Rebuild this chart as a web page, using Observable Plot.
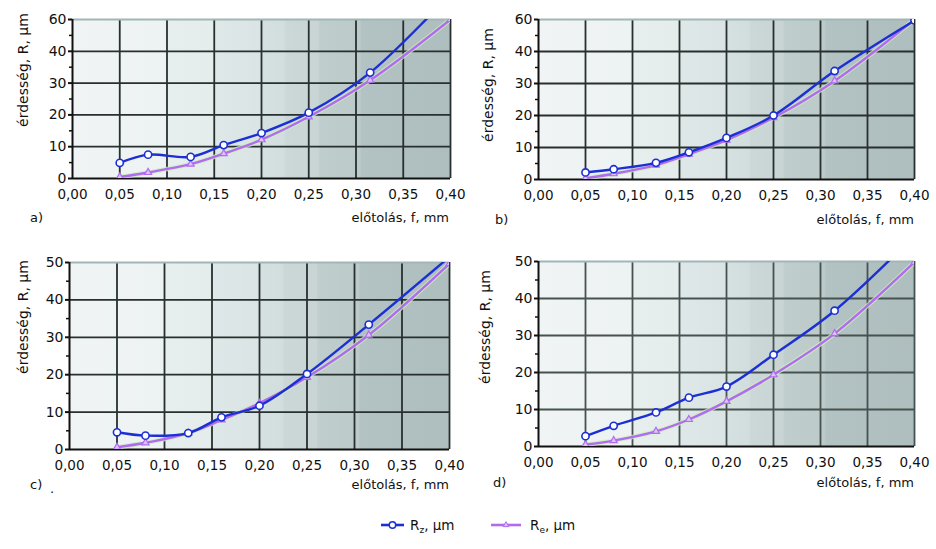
<!DOCTYPE html>
<html>
<head>
<meta charset="utf-8">
<script src="https://cdn.jsdelivr.net/npm/d3@7"></script>
<script src="https://cdn.jsdelivr.net/npm/@observablehq/plot@0.6"></script>
<style>
  html, body { margin: 0; padding: 0; background: #fff; }
  body { width: 936px; height: 549px; position: relative; overflow: hidden; font-family: "DejaVu Sans", sans-serif; color: #111; }
  .panel { position: absolute; }
  .lbl { position: absolute; font-size: 13px; white-space: nowrap; line-height: 1; }
  .ytitle { position: absolute; font-size: 14px; white-space: nowrap; line-height: 1; transform: translate(-50%, -50%) rotate(-90deg); }
  .legend { position: absolute; left: 0; top: 512px; width: 936px; height: 30px; }
</style>
</head>
<body>
<script>
// ---- data ----
const feed = [0.05, 0.08, 0.125, 0.16, 0.2, 0.25, 0.315, 0.4];

const rzA = [4.9, 7.5, 6.8, 10.5, 14.3, 20.7, 33.3, 58];
const reA = [0.5, 1.9, 4.5, 7.8, 12.2, 19.4, 30.9, 50];

const rzB = [2.2, 3.2, 5.2, 8.5, 13.0, 20.0, 33.9, 49.7];
const reB = [0.4, 1.8, 4.5, 7.9, 12.3, 19.3, 30.8, 50];

const rzC = [4.6, 3.7, 4.4, 8.6, 11.7, 20.2, 33.4, 51.5];
const reC = [0.6, 1.8, 4.4, 7.9, 12.4, 19.3, 30.6, 49.7];

const rzD = [2.8, 5.6, 9.2, 13.2, 16.2, 24.8, 36.7, 57];
const reD = [0.5, 1.6, 4.1, 7.3, 12.2, 19.4, 30.5, 49.8];

const xTicks = [0, 0.05, 0.1, 0.15, 0.2, 0.25, 0.3, 0.35, 0.4];
const xTickLabels = ["0,00", "0,05", "0,10", "0,15", "0,20", "0,25", "0,30", "0,35", "0,40"];
const yTicks = [0, 10, 20, 30, 40, 50];
const yMinorTicks = [5, 15, 25, 35, 45];
const yTickLabelsAB = ["0", "10", "20", "30", "40", "60"];
const yTickLabelsCD = ["0", "10", "20", "30", "40", "50"];

const xTitle = "előtolás, f, mm";
const yTitle = "érdesség, R, µm";
const seriesNames = ["R", "R"];
const seriesSubs = ["z", "e"];
const seriesUnit = ", µm";

// ---- styles ----
const rzColor = "#1c2fd4";
const reColor = "#b06cee";
const bgStops = [
  [0, "#f0f4f4"], [0.245, "#edf2f2"], [0.25, "#e7eeee"], [0.37, "#e5ecec"],
  [0.375, "#dfe8e8"], [0.5, "#dbe4e4"], [0.505, "#d5e0e0"], [0.56, "#d2dddd"],
  [0.565, "#ccd8d8"], [0.65, "#c9d5d5"], [0.655, "#bfcdcd"], [0.76, "#bccaca"],
  [0.765, "#b3c2c2"], [1, "#aebdbd"]
];

function panel(cfg) {
  const rows = feed.map((f, i) => ({f, rz: cfg.rz[i], re: cfg.re[i]}));
  const curve = "catmull-rom";
  const svg = Plot.plot({
    width: cfg.width, height: cfg.height,
    marginTop: cfg.mt, marginBottom: cfg.mb, marginLeft: cfg.ml, marginRight: cfg.mr,
    style: {fontFamily: "DejaVu Sans, sans-serif", fontSize: "14px", color: "#111", background: "transparent", overflow: "visible"},
    x: {domain: [0, 0.4]},
    y: {domain: [0, 50]},
    marks: [
      Plot.frame({fill: `url(#bg-${cfg.id})`, stroke: null}),
      Plot.ruleX(xTicks.slice(1), {stroke: cfg.grid, strokeWidth: 1.8}),
      Plot.ruleY(yTicks.slice(1, -1), {stroke: cfg.grid, strokeWidth: 1.8}),
      Plot.ruleY([50], {stroke: "#a2b6b6", strokeWidth: 2}),
      Plot.ruleX([0], {stroke: "#111", strokeWidth: 2}),
      Plot.ruleY([0], {stroke: "#111", strokeWidth: 2}),
      Plot.axisX({ticks: xTicks, tickFormat: d => xTickLabels[xTicks.indexOf(d)], tickSize: 0, tickPadding: 11, fontSize: 13.5, label: null}),
      Plot.axisY({ticks: yTicks, tickFormat: d => cfg.yLabels[yTicks.indexOf(d)], tickSize: 4, tickPadding: 2, strokeWidth: 2, fontSize: 14, label: null}),
      Plot.axisY({ticks: yMinorTicks, tickFormat: () => "", tickSize: 3, strokeWidth: 1.5, label: null}),
      Plot.line(rows, {x: "f", y: "re", stroke: "#cdeebd", strokeWidth: 4.5, strokeOpacity: 0.8, curve, clip: true}),
      Plot.line(rows, {x: "f", y: "re", stroke: reColor, strokeWidth: 2.4, curve, clip: true}),
      Plot.line(rows, {x: "f", y: "rz", stroke: rzColor, strokeWidth: 2.4, curve, clip: true}),
      Plot.dot(rows, {x: "f", y: "re", symbol: "triangle", r: 2.6, stroke: reColor, fill: "#dcc2f8", strokeWidth: 1.2, clip: true}),
      Plot.dot(rows, {x: "f", y: "rz", r: 3.6, fill: "white", stroke: rzColor, strokeWidth: 1.6, clip: true})
    ]
  });
  const defs = d3.select(svg).insert("defs", ":first-child");
  const g = defs.append("linearGradient").attr("id", `bg-${cfg.id}`)
    .attr("x1", 0).attr("x2", 1).attr("y1", 0).attr("y2", 0);
  bgStops.forEach(([o, c]) => g.append("stop").attr("offset", o).attr("stop-color", c));
  svg.classList.add("panel");
  svg.style.left = cfg.left + "px";
  svg.style.top = cfg.top + "px";
  document.body.appendChild(svg);

  // axis titles and panel letter
  const xt = document.createElement("div");
  xt.className = "lbl"; xt.textContent = xTitle;
  xt.style.right = (936 - cfg.xTitleRight) + "px"; xt.style.top = cfg.xTitleTop + "px";
  document.body.appendChild(xt);

  const yt = document.createElement("div");
  yt.className = "ytitle"; yt.textContent = yTitle;
  yt.style.left = cfg.yTitleX + "px"; yt.style.top = cfg.yTitleY + "px";
  document.body.appendChild(yt);

  const lt = document.createElement("div");
  lt.className = "lbl"; lt.textContent = cfg.letter;
  lt.style.left = cfg.letterX + "px"; lt.style.top = cfg.xTitleTop + "px";
  document.body.appendChild(lt);
}

panel({id: "a", rz: rzA, re: reA, yLabels: yTickLabelsAB, grid: "#27302f",
  left: 0, top: 0, width: 468, height: 230, mt: 19, mb: 52, ml: 72, mr: 18,
  xTitleRight: 449, xTitleTop: 211, yTitleX: 23, yTitleY: 70, letter: "a)", letterX: 30});
panel({id: "b", rz: rzB, re: reB, yLabels: yTickLabelsAB, grid: "#27302f",
  left: 468, top: 0, width: 468, height: 230, mt: 19, mb: 51, ml: 70, mr: 22,
  xTitleRight: 914, xTitleTop: 213, yTitleX: 488, yTitleY: 85, letter: "b)", letterX: 495});
panel({id: "c", rz: rzC, re: reC, yLabels: yTickLabelsCD, grid: "#27302f",
  left: 0, top: 240, width: 468, height: 260, mt: 22, mb: 51, ml: 69, mr: 19,
  xTitleRight: 449, xTitleTop: 478, yTitleX: 23, yTitleY: 317, letter: "c)", letterX: 30});
panel({id: "d", rz: rzD, re: reD, yLabels: yTickLabelsCD, grid: "#46524f",
  left: 468, top: 240, width: 468, height: 260, mt: 21, mb: 54, ml: 70, mr: 22,
  xTitleRight: 914, xTitleTop: 476, yTitleX: 485, yTitleY: 327, letter: "d)", letterX: 493});

// stray dot under panel c, as in the reference
const dot = document.createElement("div");
dot.className = "lbl"; dot.textContent = "."; dot.style.left = "50px"; dot.style.top = "482px";
document.body.appendChild(dot);

// ---- legend ----
const leg = d3.select(document.body).append("svg").attr("class", "legend").attr("width", 936).attr("height", 30);
const items = [
  {x0: 381, x1: 404, tx: 410, color: rzColor, sym: "circle", name: seriesNames[0], sub: seriesSubs[0]},
  {x0: 491, x1: 521, tx: 530, color: reColor, sym: "triangle", name: seriesNames[1], sub: seriesSubs[1]}
];
items.forEach(it => {
  const cy = 13;
  leg.append("line").attr("x1", it.x0).attr("x2", it.x1).attr("y1", cy).attr("y2", cy)
    .attr("stroke", it.color).attr("stroke-width", 2.6);
  const cx = (it.x0 + it.x1) / 2;
  if (it.sym === "circle") {
    leg.append("circle").attr("cx", cx).attr("cy", cy).attr("r", 3.2)
      .attr("fill", "white").attr("stroke", it.color).attr("stroke-width", 1.4);
  } else {
    leg.append("path").attr("d", d3.symbol(d3.symbolTriangle, 14)()).attr("transform", `translate(${cx},${cy})`)
      .attr("fill", "#dcc2f8").attr("stroke", it.color).attr("stroke-width", 1);
  }
  const t = leg.append("text").attr("x", it.tx).attr("y", cy + 5)
    .attr("font-family", "DejaVu Sans, sans-serif").attr("font-size", 13.5).attr("fill", "#111");
  t.append("tspan").text(it.name);
  t.append("tspan").attr("font-size", 9).attr("dy", 3).text(it.sub);
  t.append("tspan").attr("dy", -3).text(seriesUnit);
});
</script>
</body>
</html>
